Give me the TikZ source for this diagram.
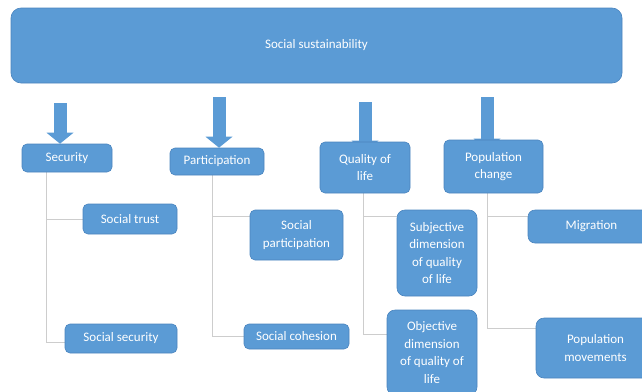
\documentclass[tikz,border=0pt]{standalone}
\usepackage{fontspec}
\setmainfont{Carlito}
\usetikzlibrary{arrows.meta,backgrounds}
\definecolor{boxblue}{HTML}{5B9BD5}
\definecolor{boxedge}{HTML}{4A84BE}
\definecolor{conngray}{HTML}{CDCDCD}
\tikzset{
  bx/.style={draw=boxedge, line width=0.6pt, fill=boxblue, rounded corners=5pt,
    text=white, align=center, inner sep=0pt,
    font=\fontsize{13}{17.5}\selectfont},
  conn/.style={draw=conngray, line width=0.9pt},
  blk/.style={draw=boxblue, line width=13pt,
    -{Triangle[length=11pt,width=27pt,line width=0pt]}}
}
\begin{document}
\begin{tikzpicture}[x=1pt,y=-1pt]
\begin{scope}
\clip (0,0) rectangle (642,391);
\node[bx, rounded corners=10pt, minimum width=611pt, minimum height=75pt] (top) at (316.5,45.5) {Social sustainability};
\node[bx, minimum width=90pt, minimum height=28pt] (sec) at (67,158) {Security};
\node[bx, minimum width=94pt, minimum height=27pt] (par) at (217,161.5) {Participation};
\node[bx, minimum width=90pt, minimum height=51pt] (qol) at (365,167.5) {Quality of\\life};
\node[bx, minimum width=99pt, minimum height=53pt] (pop) at (493.5,166.5) {Population\\change};
\node[bx, minimum width=94pt, minimum height=30pt] (trust) at (130,219) {Social trust};
\node[bx, minimum width=112pt, minimum height=29pt] (ssec) at (121,338.5) {Social security};
\node[bx, minimum width=93pt, minimum height=50pt] (spar) at (296.5,235) {Social\\participation};
\node[bx, minimum width=105pt, minimum height=25pt] (coh) at (296.5,336.5) {Social cohesion};
\node[bx, rounded corners=8pt, minimum width=80pt, minimum height=86pt] (subj) at (437,253) {Subjective\\dimension\\of quality\\of life};
\node[bx, rounded corners=8pt, minimum width=90pt, minimum height=85pt] (obj) at (432,352.5) {Objective\\dimension\\of quality of\\life};
\node[bx, rounded corners=7pt, minimum width=127pt, minimum height=33pt] (mig) at (591.5,226.5) {Migration};
\node[bx, rounded corners=8pt, minimum width=119pt, minimum height=60pt] (mov) at (595.5,348) {Population\\movements};
\end{scope}
\begin{pgfonlayer}{background}
\coordinate (a1) at (60,103);
\coordinate (a2) at (219,97);
\coordinate (a3) at (365,102);
\coordinate (a4) at (487,97);
\draw[blk] (a1) -- (a1 |- sec.north);
\draw[blk] (a2) -- (a2 |- par.north);
\draw[blk, shorten >=-10pt] (a3) -- (a3 |- qol.north);
\draw[blk, shorten >=-10pt] (a4) -- (a4 |- pop.north);
\draw[conn] ([xshift=25pt]sec.south west) |- (trust.west);
\draw[conn] ([xshift=25pt]sec.south west) |- ([yshift=-3.5pt]ssec.west);
\draw[conn] ([xshift=43pt]par.south west) |- ([yshift=-7pt]spar.north west);
\draw[conn] ([xshift=43pt]par.south west) |- (coh.west);
\draw[conn] ([xshift=-2pt]qol.south) |- ([yshift=-7pt]subj.north west);
\draw[conn] ([xshift=-2pt]qol.south) |- ([yshift=-25pt]obj.north west);
\draw[conn] ([xshift=-6.5pt]pop.south) |- ([yshift=-7pt]mig.north west);
\draw[conn] ([xshift=-6.5pt]pop.south) |- ([yshift=-11pt]mov.north west);
\end{pgfonlayer}
\pgfresetboundingbox
\path[use as bounding box] (0,0) rectangle (642,391);
\end{tikzpicture}
\end{document}
